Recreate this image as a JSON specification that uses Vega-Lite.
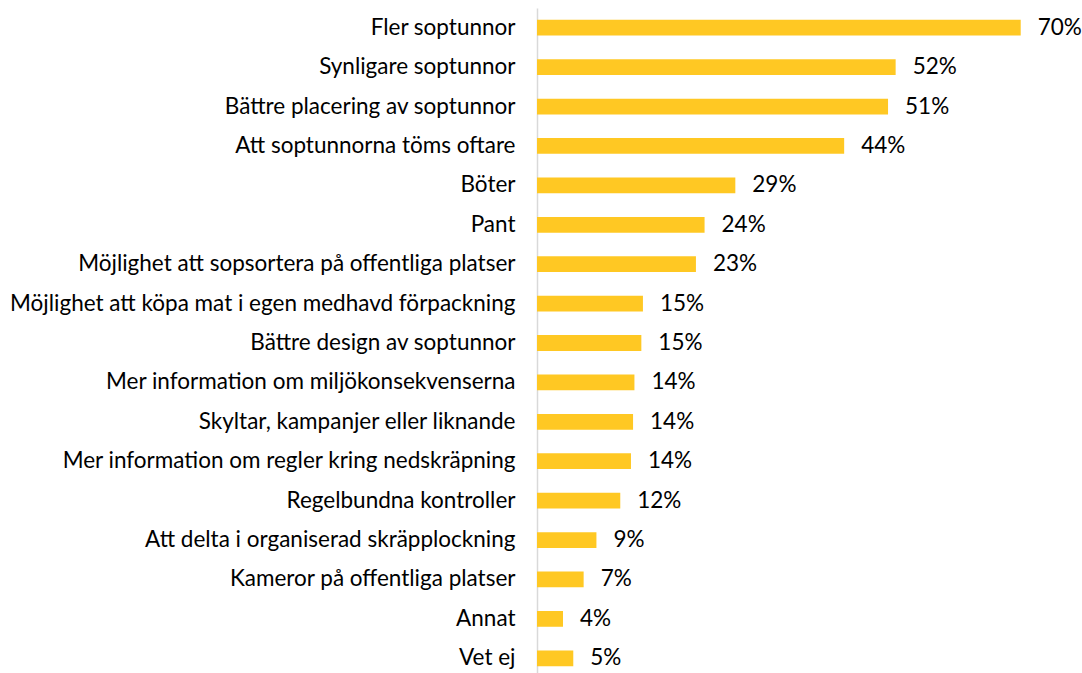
{
  "$schema": "https://vega.github.io/schema/vega-lite/v6.json",
  "autosize": "none",
  "width": 539,
  "height": 670,
  "padding": {"left": 537, "top": 8, "right": 6, "bottom": 0},
  "background": "white",
  "config": {"view": {"stroke": null}, "font": "Lato"},
  "data": {"values": [
    {"cat": "Fler soptunnor", "v": 0.700},
    {"cat": "Synligare soptunnor", "v": 0.519},
    {"cat": "Bättre placering av soptunnor", "v": 0.508},
    {"cat": "Att soptunnorna töms oftare", "v": 0.4445},
    {"cat": "Böter", "v": 0.287},
    {"cat": "Pant", "v": 0.2425},
    {"cat": "Möjlighet att sopsortera på offentliga platser", "v": 0.230},
    {"cat": "Möjlighet att köpa mat i egen medhavd förpackning", "v": 0.1533},
    {"cat": "Bättre design av soptunnor", "v": 0.151},
    {"cat": "Mer information om miljökonsekvenserna", "v": 0.141},
    {"cat": "Skyltar, kampanjer eller liknande", "v": 0.139},
    {"cat": "Mer information om regler kring nedskräpning", "v": 0.136},
    {"cat": "Regelbundna kontroller", "v": 0.1205},
    {"cat": "Att delta i organiserad skräpplockning", "v": 0.086},
    {"cat": "Kameror på offentliga platser", "v": 0.0675},
    {"cat": "Annat", "v": 0.0376},
    {"cat": "Vet ej", "v": 0.0525}
  ]},
  "encoding": {
    "y": {"field": "cat", "type": "nominal", "sort": null,
      "scale": {"paddingInner": 0.6, "paddingOuter": 0.3},
      "axis": {"title": null, "ticks": false, "labelPadding": 22, "labelFontSize": 22.5, "labelColor": "#000", "labelFont": "Lato", "labelLimit": 600, "domainColor": "#d9d9d9", "domainWidth": 1.5}},
    "x": {"field": "v", "type": "quantitative", "scale": {"domain": [0, 0.78], "nice": false}, "axis": null}
  },
  "layer": [
    {"mark": {"type": "bar", "color": "#FFC823"}},
    {"mark": {"type": "text", "align": "left", "baseline": "middle", "dx": 17, "fontSize": 22.5, "font": "Lato", "color": "#000"},
     "encoding": {"text": {"field": "v", "type": "quantitative", "format": ".0%"}}}
  ]
}
